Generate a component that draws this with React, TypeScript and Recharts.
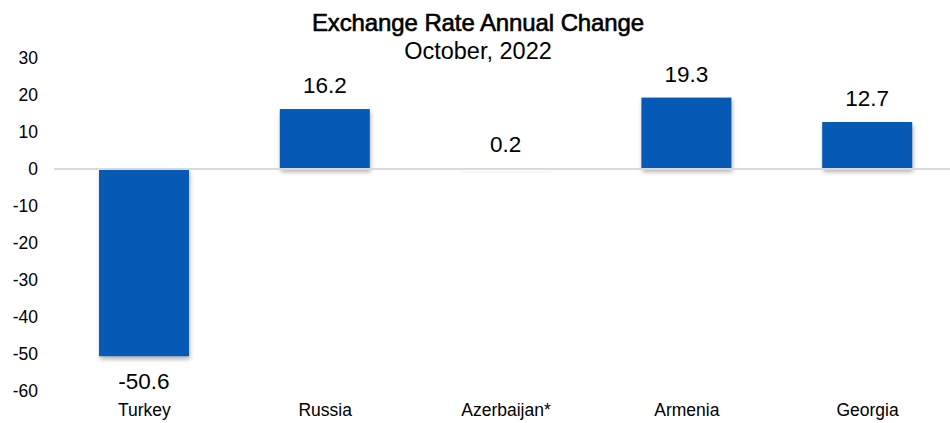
import { BarChart, Bar, XAxis, YAxis, ReferenceLine, LabelList } from 'recharts'

const countries = ['Turkey', 'Russia', 'Azerbaijan*', 'Armenia', 'Georgia']
const changes = [-50.6, 16.2, 0.2, 19.3, 12.7]
const yTicks = [-60, -50, -40, -30, -20, -10, 0, 10, 20, 30]

const data = countries.map((name, i) => ({ name, value: changes[i] }))

const FONT = '"Liberation Sans", Arial, sans-serif'
const BAR_COLOR = '#0659b4'

// value label: above positive bars, below negative ones
function ValueLabel(props: any) {
  const { x, y, width, height, value } = props
  const top = Math.min(y, y + height)
  const bottom = Math.max(y, y + height)
  const cx = x + width / 2
  if (value < 0) {
    return (
      <text x={cx} y={bottom + 17} dy="0.72em" textAnchor="middle" fontSize={22.5} fontFamily={FONT} fill="#000">
        {value.toFixed(1)}
      </text>
    )
  }
  return (
    <text x={cx} y={top - 16} textAnchor="middle" fontSize={22.5} fontFamily={FONT} fill="#000">
      {value.toFixed(1)}
    </text>
  )
}

function ShadowBar(props: any) {
  const x = Number(props.x)
  const y = Number(props.y)
  const width = Number(props.width)
  const height = Number(props.height)
  const top = Math.min(y, y + height)
  const h = Math.max(Math.abs(height), 0.6)
  return (
    <g>
      <rect x={x + 1} y={top + 3} width={width} height={h} fill="#000" fillOpacity={0.3} filter="url(#barShadow)" />
      <rect x={x} y={top} width={width} height={h} fill={BAR_COLOR} />
    </g>
  )
}

export default function App() {
  return (
    <div style={{ position: 'absolute', left: 0, top: 0, width: 950, height: 423, overflow: 'hidden', background: '#fff' }}>
      <svg width={0} height={0} style={{ position: 'absolute' }}>
        <defs>
          <filter id="barShadow" x="-20%" y="-20%" width="140%" height="160%">
            <feGaussianBlur stdDeviation="2" />
          </filter>
        </defs>
      </svg>
      <div
        style={{
          position: 'absolute',
          left: 0,
          width: 956,
          top: 9,
          textAlign: 'center',
          fontFamily: FONT,
          color: '#000',
          lineHeight: '28px',
        }}
      >
        <div style={{ fontSize: 24, WebkitTextStroke: '0.6px #000', letterSpacing: -0.1 }}>Exchange Rate Annual Change</div>
        <div style={{ fontSize: 23.5 }}>October, 2022</div>
      </div>
      <BarChart width={958} height={423} data={data} margin={{ top: 58, right: 0, bottom: 0, left: 0 }} barSize={90}>
        <XAxis
          dataKey="name"
          axisLine={false}
          tickLine={false}
          tickMargin={7}
          height={32}
          tick={{ fill: '#000', fontSize: 17.5, fontFamily: FONT }}
        />
        <YAxis
          domain={[-60, 30]}
          ticks={yTicks}
          axisLine={false}
          tickLine={false}
          tickSize={0}
          tickMargin={16}
          width={54}
          tick={{ fill: '#000', fontSize: 17.5, fontFamily: FONT }}
        />
        <Bar dataKey="value" fill={BAR_COLOR} shape={(p: any) => <ShadowBar {...p} />} isAnimationActive={false}>
          <LabelList dataKey="value" content={<ValueLabel />} />
        </Bar>
        <ReferenceLine y={0} stroke="#d9d9d9" strokeWidth={2} />
      </BarChart>
    </div>
  )
}
